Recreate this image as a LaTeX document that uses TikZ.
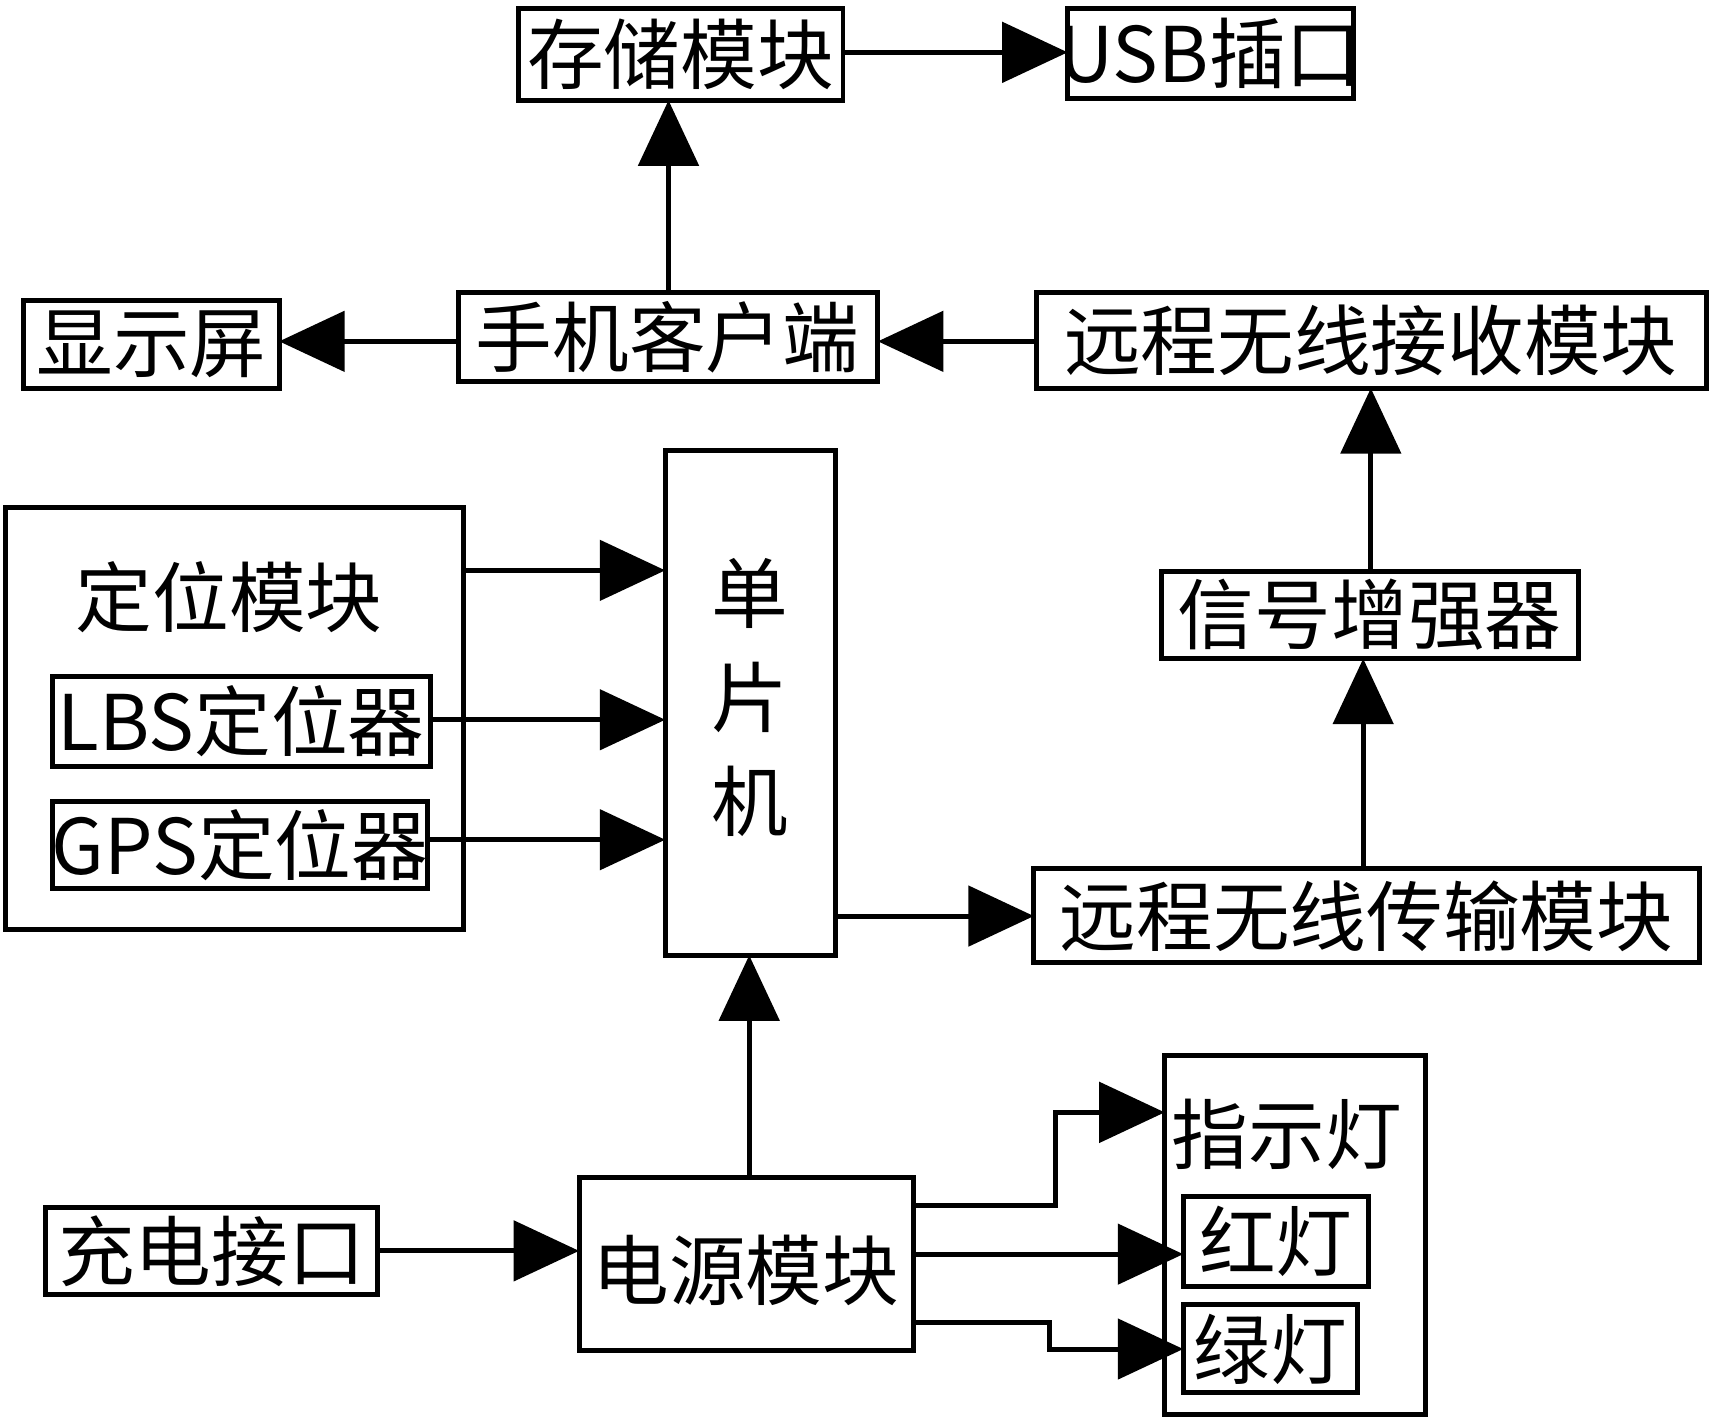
\documentclass[tikz,border=0pt]{standalone}
\usepackage{fontspec}
\setmainfont{Noto Sans CJK SC}
\usetikzlibrary{arrows.meta}
\begin{document}
\begin{tikzpicture}[x=0.01cm,y=-0.01cm,
  lb/.style={font=\fontsize{20}{20}\selectfont},
  ar/.style={line width=1.3pt,-{Triangle[length=0.6cm,width=0.55cm]}}]
\useasboundingbox (0,0) rectangle (1568,1300);
\draw[line width=1.3pt] (475,8) rectangle (773,92); \node[lb] (cc1) at (624,50) {存储模块};
\draw[line width=1.3pt] (979,8) rectangle (1241,90); \node[lb] (usb) at (1110,49) {USB插口};
\draw[line width=1.3pt] (22,276) rectangle (256,356); \node[lb] (xs) at (139,316) {显示屏};
\draw[line width=1.3pt] (420,268) rectangle (805,350); \node[lb] (sj) at (612,309) {手机客户端};
\draw[line width=1.3pt] (950,268) rectangle (1565,356); \node[lb] (js) at (1257,312) {远程无线接收模块};
\draw[line width=1.3pt] (610,413) rectangle (766,876); \node[lb,align=center] (dp) at (688,640) {单\\[0.25cm]片\\[0.25cm]机};
\draw[line width=1.3pt] (5,465) rectangle (425,852); \node[lb] (dw) at (210,548) {定位模块};
\draw[line width=1.3pt] (48,620) rectangle (395,703); \node[lb] (lbs) at (221,661) {LBS定位器};
\draw[line width=1.3pt] (48,735) rectangle (392,815); \node[lb] (gps) at (220,775) {GPS定位器};
\draw[line width=1.3pt] (1065,524) rectangle (1447,604); \node[lb] (xh) at (1256,564) {信号增强器};
\draw[line width=1.3pt] (948,796) rectangle (1558,883); \node[lb] (cs) at (1253,840) {远程无线传输模块};
\draw[line width=1.3pt] (531,1080) rectangle (838,1238); \node[lb] (dy) at (684,1165) {电源模块};
\draw[line width=1.3pt] (42,1107) rectangle (346,1187); \node[lb] (cd) at (194,1147) {充电接口};
\draw[line width=1.3pt] (1068,968) rectangle (1307,1297); \node[lb] (zs) at (1180,1040) {指示灯};
\draw[line width=1.3pt] (1085,1097) rectangle (1255,1180); \node[lb] (hd) at (1170,1138) {红灯};
\draw[line width=1.3pt] (1085,1196) rectangle (1245,1277); \node[lb] (ld) at (1165,1237) {绿灯};
\coordinate (a1) at (773,48); \coordinate (a2) at (979,48);
\draw[ar] (a1) -- (a2);
\coordinate (b1) at (613,268); \coordinate (b2) at (613,92);
\draw[ar] (b1) -- (b2);
\coordinate (c1) at (420,313); \coordinate (c2) at (256,313);
\draw[ar] (c1) -- (c2);
\coordinate (d1) at (950,313); \coordinate (d2) at (805,313);
\draw[ar] (d1) -- (d2);
\coordinate (e1) at (1257,524); \coordinate (e2) at (1257,356);
\draw[ar] (e1) -- (e2);
\coordinate (f1) at (1250,796); \coordinate (f2) at (1250,604);
\draw[ar] (f1) -- (f2);
\coordinate (g1) at (766,840); \coordinate (g2) at (948,840);
\draw[ar] (g1) -- (g2);
\coordinate (h1) at (425,523); \coordinate (h2) at (610,523);
\draw[ar] (h1) -- (h2);
\coordinate (i1) at (395,660); \coordinate (i2) at (610,660);
\draw[ar] (i1) -- (i2);
\coordinate (j1) at (392,770); \coordinate (j2) at (610,770);
\draw[ar] (j1) -- (j2);
\coordinate (k1) at (687,1080); \coordinate (k2) at (687,876);
\draw[ar] (k1) -- (k2);
\coordinate (l1) at (346,1147); \coordinate (l2) at (531,1147);
\draw[ar] (l1) -- (l2);
\coordinate (m1) at (838,1105); \coordinate (m2) at (1068,1020);
\draw[ar] (m1) -- (968,1105) -- (968,1020) -- (m2);
\coordinate (n1) at (838,1150); \coordinate (n2) at (1085,1150);
\draw[ar] (n1) -- (n2);
\coordinate (o1) at (838,1213); \coordinate (o2) at (1085,1237);
\draw[ar] (o1) -- (962,1213) -- (962,1237) -- (o2);
\end{tikzpicture}
\end{document}
